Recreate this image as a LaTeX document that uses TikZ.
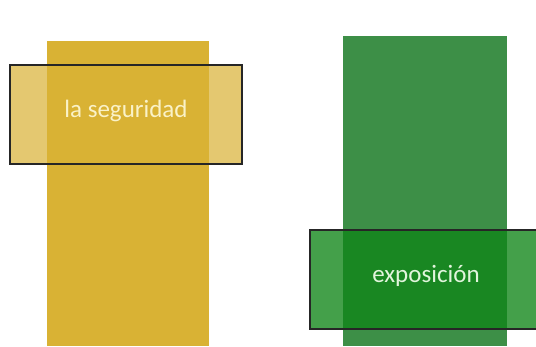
\documentclass[tikz,border=0pt]{standalone}
\usepackage{fontspec}
\setmainfont{Carlito}
\definecolor{goldbar}{RGB}{217,178,52}
\definecolor{goldtxt}{RGB}{250,242,200}
\definecolor{greenbar}{RGB}{61,143,71}
\definecolor{greenbox}{RGB}{16,134,24}
\definecolor{greentxt}{RGB}{225,245,220}
\tikzset{
  labelbox/.style={draw=black!85,line width=1.5pt,minimum width=232pt,minimum height=99pt,font=\fontsize{25}{28}\selectfont,inner sep=0pt,text height=18pt,text depth=13pt}
}
\begin{document}
\begin{tikzpicture}[x=1pt,y=-1pt]
\clip (0,0) rectangle (536,346);
\fill[white] (0,0) rectangle (536,346);
% columns
\fill[goldbar] (47,41) rectangle (209,346);
\fill[greenbar] (343,36) rectangle (507,346);
% boxes
\node[labelbox,fill=goldbar,fill opacity=0.7,text opacity=1,text=goldtxt] (seguridad) at (126,114.5) {la seguridad};
\node[labelbox,fill=greenbox,fill opacity=0.78,text opacity=1,text=greentxt] (exposicion) at (426,279.5) {exposición};
\end{tikzpicture}
\end{document}
